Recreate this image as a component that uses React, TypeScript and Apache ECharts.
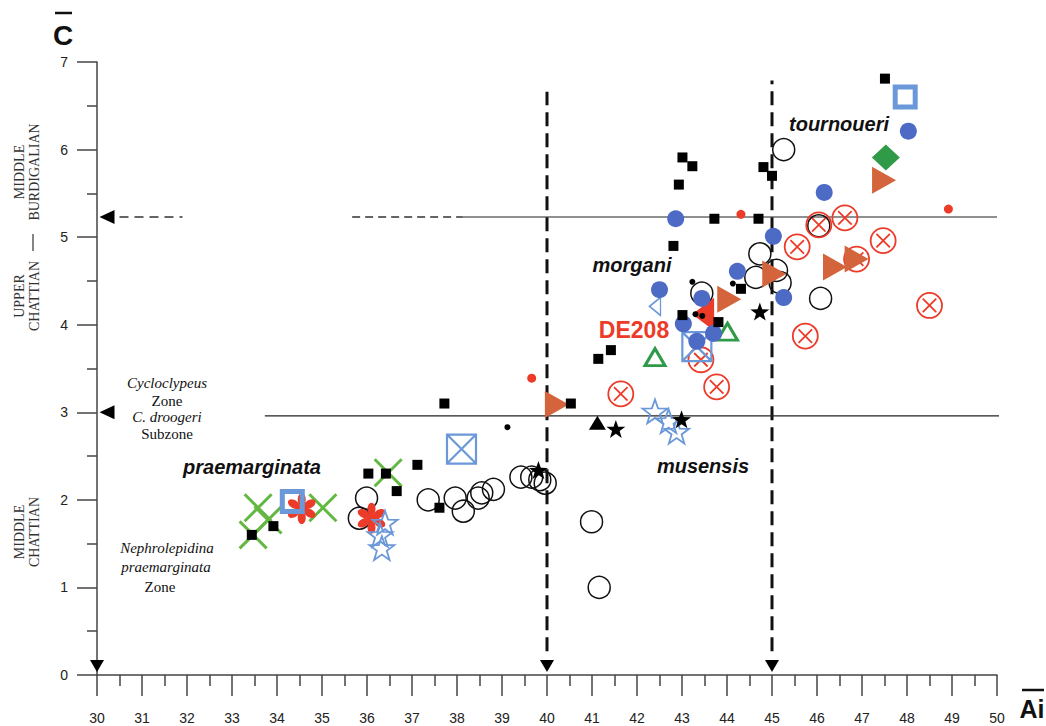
import React, { useEffect, useRef } from "react";
import * as echarts from "echarts";

// ---------- data (Ai, C) ----------
const xTickValues = [30, 31, 32, 33, 34, 35, 36, 37, 38, 39, 40, 41, 42, 43, 44, 45, 46, 47, 48, 49, 50];
const yTickValues = [0, 1, 2, 3, 4, 5, 6, 7];

const openCircles = [
  [35.99, 2.02], [35.83, 1.79], [37.36, 2.0], [37.96, 2.02], [38.14, 1.87], [38.47, 2.02],
  [38.55, 2.08], [38.81, 2.12], [39.42, 2.26], [39.66, 2.26], [39.84, 2.23], [39.96, 2.19],
  [40.99, 1.75], [41.16, 1.0], [43.44, 4.36], [44.73, 4.81], [44.64, 4.54], [45.1, 4.62],
  [45.18, 4.48], [46.08, 4.3], [46.04, 5.13], [45.26, 6.0],
];
const blueCircles = [
  [42.86, 5.21], [45.03, 5.01], [46.16, 5.51], [44.23, 4.61], [42.5, 4.4], [43.44, 4.3],
  [43.03, 4.01], [43.7, 3.9], [43.33, 3.81], [45.26, 4.31], [48.03, 6.21],
];
const blackSquares = [
  [33.44, 1.6], [33.92, 1.7], [36.03, 2.3], [36.42, 2.3], [36.66, 2.1], [37.12, 2.4],
  [37.61, 1.91], [37.72, 3.1], [40.53, 3.1], [43.01, 5.91], [43.23, 5.81], [42.93, 5.6],
  [44.81, 5.8], [45.0, 5.7], [43.72, 5.21], [44.7, 5.21], [42.81, 4.9], [44.31, 4.41],
  [43.01, 4.11], [43.81, 4.03], [41.14, 3.61], [41.42, 3.71], [47.51, 6.81],
];
const redCircleX = [
  [41.64, 3.21], [43.77, 3.29], [43.42, 3.6], [45.74, 3.87], [45.56, 4.89], [46.04, 5.14],
  [46.62, 5.22], [47.47, 4.96], [46.88, 4.75], [48.5, 4.22],
];
const orangeTriangles = [[40.22, 3.09], [44.05, 4.29], [45.05, 4.58], [46.4, 4.66], [46.88, 4.75], [47.49, 5.65]];
const greenCrosses = [[33.58, 1.91], [33.8, 1.77], [33.47, 1.6], [35.02, 1.91], [36.47, 2.31]];
const redAsterisks = [[34.55, 1.9], [36.1, 1.79]];
const blueStars = [[36.4, 1.74], [36.29, 1.6], [36.33, 1.45], [42.4, 3.01], [42.7, 2.9], [42.88, 2.78]];
const blackStars = [[39.81, 2.34], [41.53, 2.81], [42.99, 2.92], [44.73, 4.15]];
const blackTriangles = [[41.12, 2.88]];
const blackDots = [[39.12, 2.83], [43.23, 4.49], [44.13, 4.47], [43.3, 4.12], [43.45, 4.1]];
const redDots = [[39.66, 3.39], [44.31, 5.26], [48.92, 5.32]];
const blueSquareX = [[38.1, 2.58], [43.33, 3.75]];
const blueOpenSquares = [[34.34, 1.98], [47.96, 6.6]];
const greenOpenTriangles = [[44.01, 3.92], [42.4, 3.63]];
const greenDiamonds = [[47.53, 5.91]];
const blueLeftTriangles = [[42.4, 4.21]];
const redLeftTriangles = [[43.47, 4.12]];

// reference markers
const downMarkers = [[30, 0], [40, 0], [45, 0]];
const leftMarkers = [[30, 5.23], [30, 3.0]];

// boundary lines
const vLine40 = [[40, 0.27], [40, 6.66]];
const vLine45 = [[45, 0.27], [45, 6.79]];
const upperSolid = [[38.13, 5.23], [50, 5.23]];
const upperDashed = [[35.67, 5.23], [38.13, 5.23]];
const leftDashed = [[30.5, 5.23], [31.9, 5.23]];
const lowerSolid = [[33.73, 2.96], [50.18, 2.96]];

// ---------- symbol shapes ----------
function starSymbol(): string {
  const pts: string[] = [];
  for (let i = 0; i < 10; i++) {
    const a = (-90 + i * 36) * Math.PI / 180;
    const r = i % 2 === 0 ? 10 : 4;
    pts.push((10 + r * Math.cos(a)).toFixed(2) + "," + (10 + r * Math.sin(a)).toFixed(2));
  }
  return "path://M" + pts.join(" L") + " Z";
}
function asteriskSymbol(): string {
  let d = "";
  for (let k = 0; k < 6; k++) {
    const th = (-90 + k * 60) * Math.PI / 180;
    const pts: string[] = [];
    const n = 24;
    for (let i = 0; i <= n; i++) {
      const t = (i / n) * Math.PI * 2;
      const u = 6 + 4 * Math.cos(t);
      const v = 2.6 * Math.sin(t);
      const x = 10 + u * Math.cos(th) - v * Math.sin(th);
      const y = 10 + u * Math.sin(th) + v * Math.cos(th);
      pts.push(x.toFixed(2) + "," + y.toFixed(2));
    }
    d += "M" + pts.join(" L") + " Z ";
  }
  const c: string[] = [];
  for (let i = 0; i <= 12; i++) {
    const t = (i / 12) * Math.PI * 2;
    c.push((10 + 3 * Math.cos(t)).toFixed(2) + "," + (10 + 3 * Math.sin(t)).toFixed(2));
  }
  d += "M" + c.join(" L") + " Z";
  return "path://" + d;
}
const circleXSymbol =
  "path://M0,10 C0,4.48 4.48,0 10,0 C15.52,0 20,4.48 20,10 C20,15.52 15.52,20 10,20 C4.48,20 0,15.52 0,10 Z M4.6,4.6 L15.4,15.4 M15.4,4.6 L4.6,15.4";
const crossSymbol = "path://M0,0 L20,20 M20,0 L0,20";
const squareXSymbol = "path://M0,0 L20,0 L20,20 L0,20 Z M0,0 L20,20 M20,0 L0,20";

const NONE = "rgba(0,0,0,0)";
const RED = "#ec3b28";
const BLUE = "#4d6bc5";
const LBLUE = "#6a98d8";
const ORANGE = "#d3643c";
const LGREEN = "#62b842";
const DGREEN = "#2f9a48";

function scatter(data: number[][], symbol: string, size: any, itemStyle: any, z: number, extra: any = {}) {
  return {
    type: "scatter",
    data,
    symbol,
    symbolSize: size,
    itemStyle: { opacity: 1, ...itemStyle },
    z,
    clip: false,
    silent: true,
    ...extra,
  };
}
function line(data: number[][], lineStyle: any) {
  return {
    type: "line",
    data,
    symbol: "none",
    lineStyle: { opacity: 1, ...lineStyle },
    z: 1,
    clip: false,
    silent: true,
  };
}

const serif = '"Liberation Serif", "DejaVu Serif", serif';
const sans = '"Liberation Sans", Arial, sans-serif';

function rotText(text: string, x: number, y: number) {
  return {
    type: "text",
    x,
    y,
    rotation: Math.PI / 2,
    style: {
      text,
      font: `14px ${serif}`,
      fill: "#333",
      align: "center",
      verticalAlign: "middle",
      lineHeight: 15,
    },
  };
}
function labelText(text: string, x: number, y: number, font: string, fill = "#111") {
  return {
    type: "text",
    x,
    y,
    style: { text, font, fill, align: "center", verticalAlign: "middle" },
  };
}

const option: any = {
  animation: false,
  backgroundColor: "#fff",
  grid: { left: 97, right: 49, top: 62, bottom: 51, containLabel: false },
  xAxis: {
    type: "value",
    min: 30,
    max: 50,
    interval: 1,
    axisLine: { show: true, onZero: false, lineStyle: { color: "#444", width: 1.5 } },
    axisTick: { show: true, length: 21, lineStyle: { color: "#444", width: 1.5 } },
    minorTick: { show: true, splitNumber: 2, length: 11, lineStyle: { color: "#444", width: 1.5 } },
    splitLine: { show: false },
    axisLabel: {
      margin: 36,
      fontSize: 14,
      color: "#222",
      fontFamily: sans,
      formatter: (v: number) => (xTickValues.indexOf(v) >= 0 ? String(v) : ""),
    },
  },
  yAxis: {
    type: "value",
    min: 0,
    max: 7,
    interval: 1,
    axisLine: { show: true, onZero: false, lineStyle: { color: "#444", width: 1.5 } },
    axisTick: { show: true, length: 20, lineStyle: { color: "#444", width: 1.5 } },
    minorTick: { show: true, splitNumber: 2, length: 10, lineStyle: { color: "#444", width: 1.5 } },
    splitLine: { show: false },
    axisLabel: {
      margin: 29,
      fontSize: 14,
      color: "#222",
      fontFamily: sans,
      formatter: (v: number) => (yTickValues.indexOf(v) >= 0 ? String(v) : ""),
    },
  },
  series: [
    line(vLine40, { color: "#111", width: 3, type: [14, 7] }),
    line(vLine45, { color: "#111", width: 3, type: [14, 7] }),
    line(upperSolid, { color: "#222", width: 1.2 }),
    line(upperDashed, { color: "#333", width: 1.5, type: [8, 5] }),
    line(leftDashed, { color: "#333", width: 1.5, type: [9, 6] }),
    line(lowerSolid, { color: "#222", width: 1.2 }),

    scatter(openCircles, "circle", 22, { color: NONE, borderColor: "#111", borderWidth: 1.5 }, 3),
    scatter(redCircleX, circleXSymbol, 25, { color: NONE, borderColor: RED, borderWidth: 1.8 }, 4),
    scatter(greenCrosses, crossSymbol, 27, { color: NONE, borderColor: LGREEN, borderWidth: 3 }, 4),
    scatter(redAsterisks, asteriskSymbol(), 31, { color: RED }, 5, { symbolKeepAspect: true }),
    scatter(blueStars, starSymbol(), 25, { color: NONE, borderColor: LBLUE, borderWidth: 1.8 }, 5, { symbolKeepAspect: true }),
    scatter(blueSquareX, squareXSymbol, 29, { color: NONE, borderColor: LBLUE, borderWidth: 2.2 }, 5),
    scatter(blueOpenSquares, "rect", 20, { color: NONE, borderColor: LBLUE, borderWidth: 5 }, 6),
    scatter(redLeftTriangles, "triangle", [33, 22], { color: RED }, 5, { symbolRotate: 90 }),
    scatter(blueLeftTriangles, "triangle", [18, 11], { color: NONE, borderColor: LBLUE, borderWidth: 1.6 }, 5, { symbolRotate: 90 }),
    scatter(greenOpenTriangles, "triangle", [20, 17], { color: NONE, borderColor: DGREEN, borderWidth: 3 }, 5),
    scatter(greenDiamonds, "diamond", [28, 26], { color: DGREEN }, 6),
    scatter(orangeTriangles, "triangle", [27, 24], { color: ORANGE }, 6, { symbolRotate: -90 }),
    scatter(blueCircles, "circle", 17, { color: BLUE }, 7),
    scatter(blackSquares, "rect", 10, { color: "#000" }, 8),
    scatter(blackStars, starSymbol(), 19, { color: "#000" }, 8, { symbolKeepAspect: true }),
    scatter(blackTriangles, "triangle", [17, 14], { color: "#000" }, 8),
    scatter(blackDots, "circle", 6, { color: "#000" }, 9),
    scatter(redDots, "circle", 9, { color: RED }, 9),

    scatter(downMarkers, "triangle", [14, 12], { color: "#000" }, 10, { symbolRotate: 180, symbolOffset: [0, -9] }),
    scatter(leftMarkers, "triangle", [14, 15], { color: "#000" }, 10, { symbolRotate: 90, symbolOffset: [10, 0] }),
  ],
  graphic: [
    labelText("C", 63, 35, `bold 28px ${sans}`),
    { type: "line", shape: { x1: 55, y1: 13, x2: 72, y2: 13 }, style: { stroke: "#111", lineWidth: 2.5 } },
    labelText("Ai", 1032, 709, `bold 25px ${sans}`),
    { type: "line", shape: { x1: 1022, y1: 690, x2: 1044, y2: 690 }, style: { stroke: "#111", lineWidth: 2.5 } },

    rotText("MIDDLE\nBURDIGALIAN", 27, 172),
    { type: "line", shape: { x1: 33, y1: 234, x2: 33, y2: 251 }, style: { stroke: "#333", lineWidth: 1.2 } },
    rotText("UPPER\nCHATTIAN", 27, 296),
    rotText("MIDDLE\nCHATTIAN", 27, 532),

    labelText("Cycloclypeus", 167, 383, `italic 15px ${serif}`),
    labelText("Zone", 167, 401, `15px ${serif}`),
    labelText("C. droogeri", 167, 417, `italic 15px ${serif}`),
    labelText("Subzone", 167, 434, `15px ${serif}`),
    labelText("Nephrolepidina", 167, 548, `italic 15px ${serif}`),
    labelText("praemarginata", 166, 567, `italic 15px ${serif}`),
    labelText("Zone", 160, 587, `15px ${serif}`),

    labelText("praemarginata", 252, 467, `italic bold 20px ${sans}`),
    labelText("morgani", 632, 265, `italic bold 20px ${sans}`),
    labelText("DE208", 634, 330, `bold 23px ${sans}`, RED),
    labelText("tournoueri", 839, 124, `italic bold 20px ${sans}`),
    labelText("musensis", 703, 466, `italic bold 20px ${sans}`),
  ],
};

export default function App() {
  const ref = useRef<HTMLDivElement>(null);
  useEffect(() => {
    const chart = echarts.init(ref.current as HTMLDivElement, null, { renderer: "svg" });
    chart.setOption(option);
    return () => chart.dispose();
  }, []);
  return (
    <div
      ref={ref}
      style={{ position: "fixed", left: 0, top: 0, width: 1046, height: 726, background: "#fff" }}
    />
  );
}
